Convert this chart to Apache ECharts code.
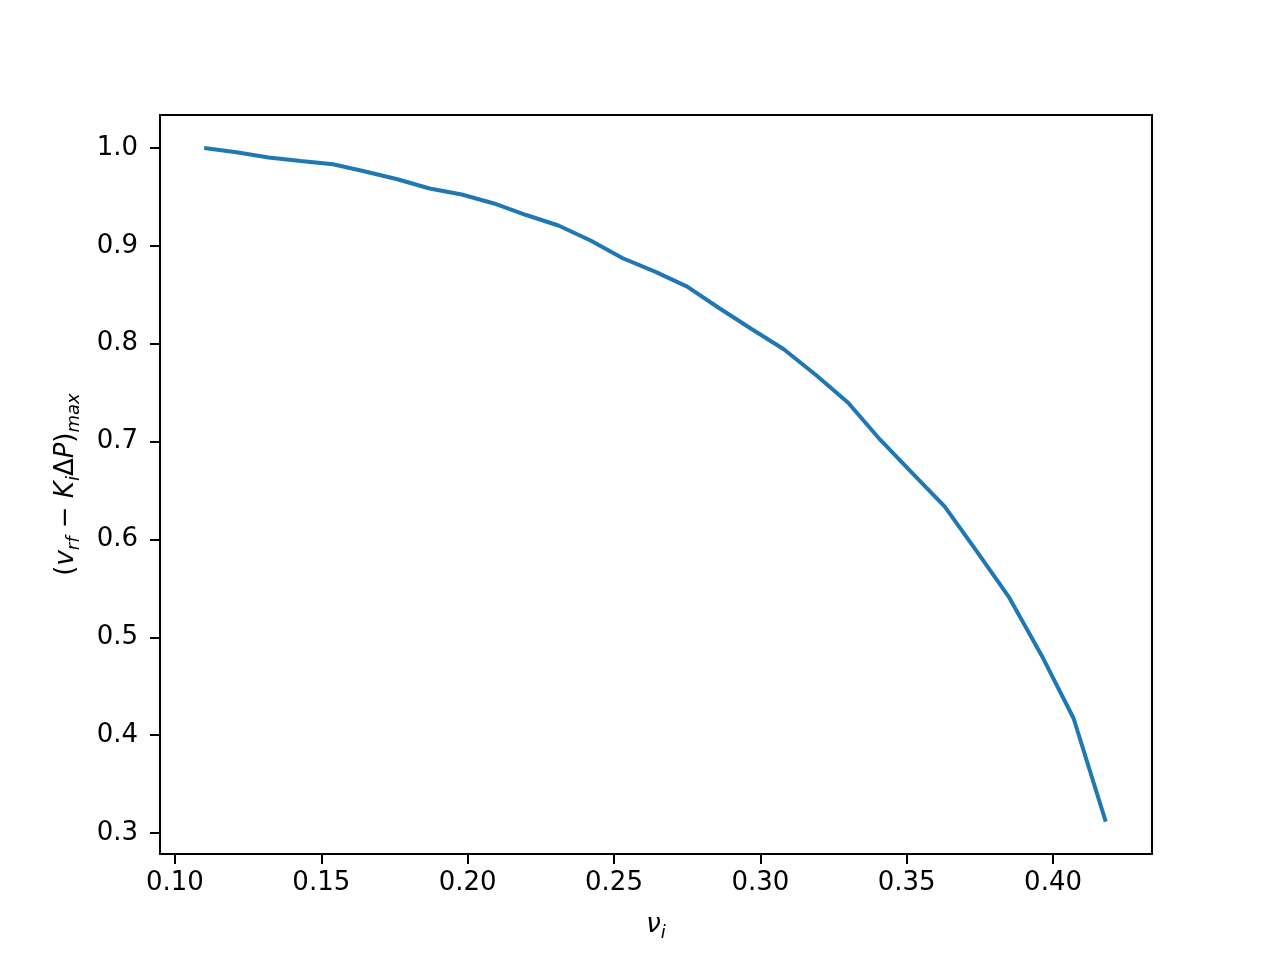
<!DOCTYPE html>
<html>
<head>
<meta charset="utf-8">
<script src="https://cdn.jsdelivr.net/npm/echarts@6/dist/echarts.min.js"></script>
<style>
html,body{margin:0;padding:0;background:#fff;}
#chart{width:1280px;height:960px;}
</style>
</head>
<body>
<div id="chart"></div>
<script>
const nuI = [0.110,0.121,0.132,0.143,0.154,0.165,0.176,0.187,0.198,0.209,0.220,0.231,0.242,0.253,0.264,0.275,0.286,0.297,0.308,0.319,0.330,0.341,0.352,0.363,0.374,0.385,0.396,0.407,0.418];
const vMax = [1.000,0.9956,0.9903,0.9867,0.9833,0.976,0.968,0.9586,0.9525,0.9433,0.9315,0.9208,0.9055,0.8873,0.8736,0.8583,0.8362,0.815,0.7943,0.768,0.7397,0.7016,0.6674,0.6335,0.5875,0.5407,0.4819,0.4172,0.3116];
const xTicks = [0.10,0.15,0.20,0.25,0.30,0.35,0.40];
const yTicks = [0.3,0.4,0.5,0.6,0.7,0.8,0.9,1.0];

const chart = echarts.init(document.getElementById('chart'));
const FONT = 'DejaVu Sans';
const mainSz = 26, subSz = 18;
const rich = {
  n: {fontFamily: FONT, fontSize: mainSz, color: '#000', lineHeight: 34},
  i: {fontFamily: FONT, fontSize: mainSz, fontStyle: 'italic', color: '#000', lineHeight: 34},
  s: {fontFamily: FONT, fontSize: subSz, fontStyle: 'italic', color: '#000', lineHeight: 12, verticalAlign: 'bottom'}
};
chart.setOption({
  animation: false,
  backgroundColor: '#fff',
  grid: {left: 160, right: 128, top: 115, bottom: 106, show: true, borderColor: '#000', borderWidth: 2, backgroundColor: 'transparent'},
  xAxis: {
    type: 'value', min: 0.0949, max: 0.4338,
    axisLine: {show: true, onZero: false, lineStyle: {color: '#000', width: 2}},
    axisTick: {show: true, length: 10, lineStyle: {color: '#000', width: 2}, customValues: xTicks},
    axisLabel: {show: true, customValues: xTicks, margin: 16, fontFamily: FONT, fontSize: 26, color: '#000', formatter: v => v.toFixed(2)},
    splitLine: {show: false},
    name: '{i|ν}{s|i}', nameLocation: 'middle', nameGap: 54,
    nameTextStyle: {rich: rich}
  },
  yAxis: {
    type: 'value', min: 0.2785, max: 1.0337,
    axisLine: {show: true, onZero: false, lineStyle: {color: '#000', width: 2}},
    axisTick: {show: true, length: 10, lineStyle: {color: '#000', width: 2}, customValues: yTicks},
    axisLabel: {show: true, customValues: yTicks, margin: 22, fontFamily: FONT, fontSize: 26, color: '#000', formatter: v => v.toFixed(1)},
    splitLine: {show: false},
    name: '{n|(}{i|v}{s|rf}{n| − }{i|K}{s|i}{n|Δ}{i|P}{n|)}{s|max}', nameLocation: 'middle', nameGap: 77,
    nameTextStyle: {rich: rich}
  },
  series: [{
    type: 'line',
    data: nuI.map((x, k) => [x, vMax[k]]),
    showSymbol: false,
    lineStyle: {color: '#1f77b4', width: 4},
    itemStyle: {color: '#1f77b4'}
  }]
});
</script>
</body>
</html>
